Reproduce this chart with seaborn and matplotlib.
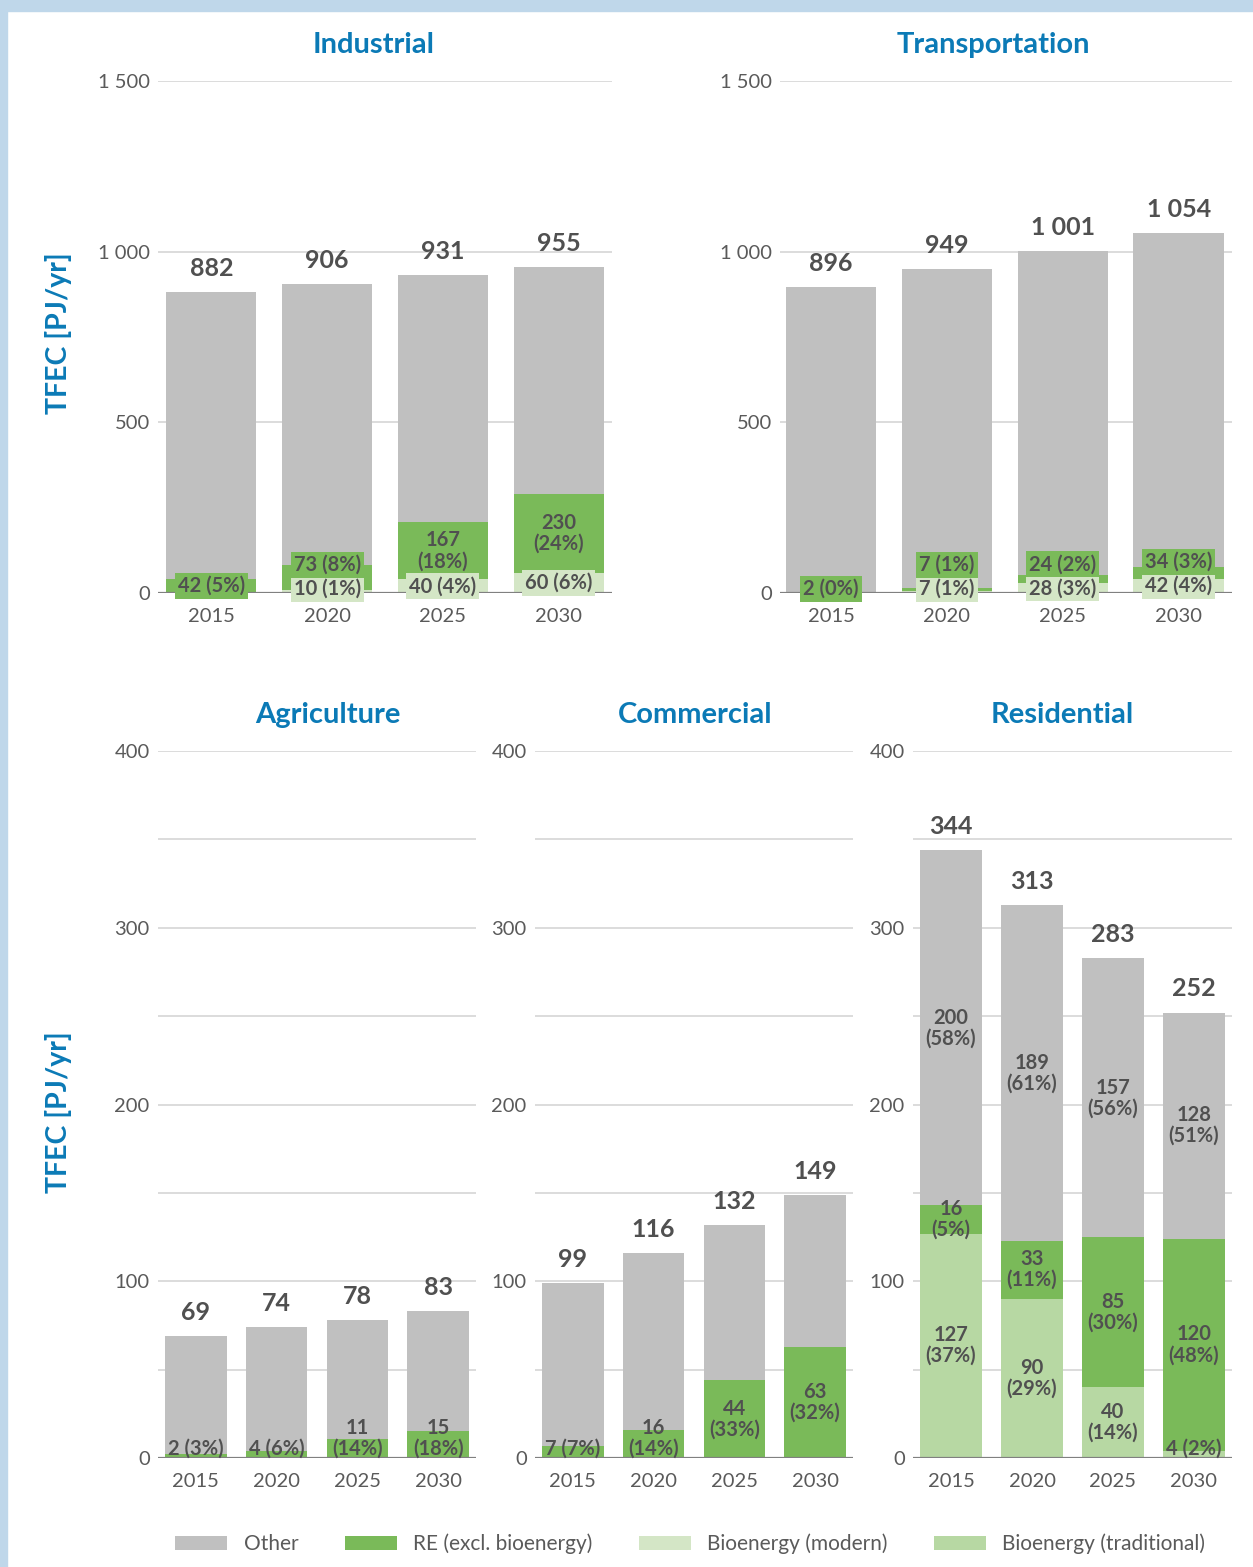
import numpy as np
import pandas as pd
import matplotlib
matplotlib.use("Agg")
import matplotlib.pyplot as plt
import seaborn as sns
from matplotlib.patches import Rectangle, Patch

# ---------------- data ----------------
years = ["2015", "2020", "2025", "2030"]

ind_total = [882, 906, 931, 955]
ind_re = [42, 73, 167, 230]
ind_re_pct = [5, 8, 18, 24]
ind_biomod = [0, 10, 40, 60]
ind_biomod_pct = [0, 1, 4, 6]

tra_total = [896, 949, 1001, 1054]
tra_re = [2, 7, 24, 34]
tra_re_pct = [0, 1, 2, 3]
tra_biomod = [0, 7, 28, 42]
tra_biomod_pct = [0, 1, 3, 4]

agr_total = [69, 74, 78, 83]
agr_re = [2, 4, 11, 15]
agr_re_pct = [3, 6, 14, 18]

com_total = [99, 116, 132, 149]
com_re = [7, 16, 44, 63]
com_re_pct = [7, 14, 33, 32]

res_total = [344, 313, 283, 252]
res_other = [200, 189, 157, 128]
res_other_pct = [58, 61, 56, 51]
res_re = [16, 33, 85, 120]
res_re_pct = [5, 11, 30, 48]
res_biotrad = [127, 90, 40, 4]
res_biotrad_pct = [37, 29, 14, 2]

legend_labels = ["Other", "RE (excl. bioenergy)", "Bioenergy (modern)", "Bioenergy (traditional)"]

# ---------------- style ----------------
C_OTHER = "#c0c0c0"
C_RE = "#7aba59"
C_BIOMOD = "#d4e6c6"
C_BIOTRAD = "#b7d8a3"
C_BLUE = "#0b7ab6"
C_TXT = "#505050"
C_TICK = "#5a5a5a"

sns.set_style("white")
plt.rcParams["font.family"] = ["Lato", "DejaVu Sans"]

W, H = 1253, 1567
fig = plt.figure(figsize=(W / 100, H / 100), dpi=100)
fig.patch.set_facecolor("white")
fig.patches.append(Rectangle((0, 1 - 11 / H), 1, 11 / H, transform=fig.transFigure,
                             color="#bfd7ea", zorder=0))
fig.patches.append(Rectangle((0, 0), 7 / W, 1, transform=fig.transFigure,
                             color="#bfd7ea", zorder=0))


def fmt(v):
    return f"{v:,}".replace(",", " ")


def make_ax(px_left, px_right, px_top, px_bottom):
    return fig.add_axes([px_left / W, 1 - px_bottom / H,
                         (px_right - px_left) / W, (px_bottom - px_top) / H])


def draw_panel(ax, title, title_x, total, stack, ymax, major, minor, width,
               xlim, top_row, label_segs):
    # stack: bottom-up list of (values, color); total drawn in gray on top
    sns.barplot(x=years, y=total, color=C_OTHER, width=width, saturation=1,
                errorbar=None, ax=ax, linewidth=0, edgecolor="none")
    cum = np.cumsum(np.array([s[0] for s in stack], dtype=float), axis=0)
    for k in range(len(stack) - 1, -1, -1):
        sns.barplot(x=years, y=list(cum[k]), color=stack[k][1], width=width,
                    saturation=1, errorbar=None, ax=ax, linewidth=0, edgecolor="none")
    ax.set_ylim(0, ymax)
    ax.set_xlim(*xlim)
    ax.set_yticks(major)
    ax.set_yticklabels([fmt(v) for v in major])
    if minor:
        ax.set_yticks(minor, minor=True)
    ax.set_axisbelow(True)
    ax.yaxis.grid(True, which="both", color="#d9d9d9", lw=1.3)
    ax.xaxis.grid(False)
    for sp in ax.spines.values():
        sp.set_visible(False)
    ax.tick_params(axis="both", which="both", length=0, colors=C_TICK, labelsize=14.5)
    ax.tick_params(axis="x", pad=11)
    ax.tick_params(axis="y", pad=6)
    ax.set_xlabel("")
    ax.set_ylabel("")
    ax.axhline(0, color="#808080", lw=1.6, zorder=2.5)
    ax.annotate(title, xy=(title_x, 1), xycoords="axes fraction", xytext=(0, 26),
                textcoords="offset points", ha="center", va="center",
                fontsize=21, fontweight="bold", color=C_BLUE)

    ppu = ax.transData.transform((0, 1))[1] - ax.transData.transform((0, 0))[1]
    maxchars = 7 if top_row else 6
    for i in range(len(years)):
        # totals
        ax.annotate(fmt(total[i]), xy=(i, total[i]), xytext=(0, 17),
                    textcoords="offset points", ha="center", va="center",
                    fontsize=18, fontweight="bold", color=C_TXT)
        base = 0.0
        prev = None
        for vals, pcts, col in label_segs:
            v = vals[i]
            if v == 0:
                continue
            c_px = (base + v / 2) * ppu
            s1 = f"{v} ({pcts[i]}%)"
            single = len(s1) <= maxchars
            txt = s1 if single else f"{v}\n({pcts[i]}%)"
            if top_row:
                lo = 4 if prev is None else prev + 24
                y_px = max(c_px, lo) if single else c_px
            else:
                y_px = max(c_px, 9 if single else 20)
            kw = {}
            if top_row and single:
                kw["bbox"] = dict(boxstyle="square,pad=0.15", fc=col, ec="none")
            ax.text(i, y_px / ppu, txt, ha="center", va="center", fontsize=14.5,
                    fontweight="bold", color=C_TXT, linespacing=1.05, zorder=4, **kw)
            prev = y_px
            base += v


# top row
ax1 = make_ax(158, 612, 81, 593)
draw_panel(ax1, "Industrial", 0.474, ind_total,
           [(ind_biomod, C_BIOMOD), (ind_re, C_RE)], 1500, [0, 500, 1000, 1500], None,
           0.78, (-0.46, 3.46), True,
           [(ind_biomod, ind_biomod_pct, C_BIOMOD), (ind_re, ind_re_pct, C_RE)])

ax2 = make_ax(780, 1232, 81, 593)
draw_panel(ax2, "Transportation", 0.473, tra_total,
           [(tra_biomod, C_BIOMOD), (tra_re, C_RE)], 1500, [0, 500, 1000, 1500], None,
           0.78, (-0.44, 3.46), True,
           [(tra_biomod, tra_biomod_pct, C_BIOMOD), (tra_re, tra_re_pct, C_RE)])

# bottom row
bmaj = [0, 100, 200, 300, 400]
bmin = [50, 150, 250, 350]
ax3 = make_ax(158, 476, 751, 1458)
draw_panel(ax3, "Agriculture", 0.535, agr_total, [(agr_re, C_RE)], 400, bmaj, bmin,
           0.76, (-0.47, 3.47), False, [(agr_re, agr_re_pct, C_RE)])

ax4 = make_ax(535, 853, 751, 1458)
draw_panel(ax4, "Commercial", 0.503, com_total, [(com_re, C_RE)], 400, bmaj, bmin,
           0.76, (-0.47, 3.47), False, [(com_re, com_re_pct, C_RE)])

ax5 = make_ax(913, 1232, 751, 1458)
draw_panel(ax5, "Residential", 0.467, res_total,
           [(res_biotrad, C_BIOTRAD), (res_re, C_RE)], 400, bmaj, bmin,
           0.76, (-0.47, 3.47), False,
           [(res_biotrad, res_biotrad_pct, C_BIOTRAD), (res_re, res_re_pct, C_RE),
            (res_other, res_other_pct, C_OTHER)])

# y labels
for yc in (333, 1112):
    fig.text(58 / W, 1 - yc / H, "TFEC [PJ/yr]", rotation=90, ha="center", va="center",
             fontsize=20.5, fontweight="bold", color=C_BLUE)

# legend
handles = [Patch(facecolor=c, edgecolor="none") for c in (C_OTHER, C_RE, C_BIOMOD, C_BIOTRAD)]
fig.legend(handles, legend_labels, loc="center", bbox_to_anchor=(0.551, 1 - 1544 / H),
           ncol=4, frameon=False, fontsize=15, handlelength=2.5, handleheight=0.7,
           handletextpad=0.8, columnspacing=2.2, labelcolor=C_TICK)

fig.savefig("out.png", dpi=100)
